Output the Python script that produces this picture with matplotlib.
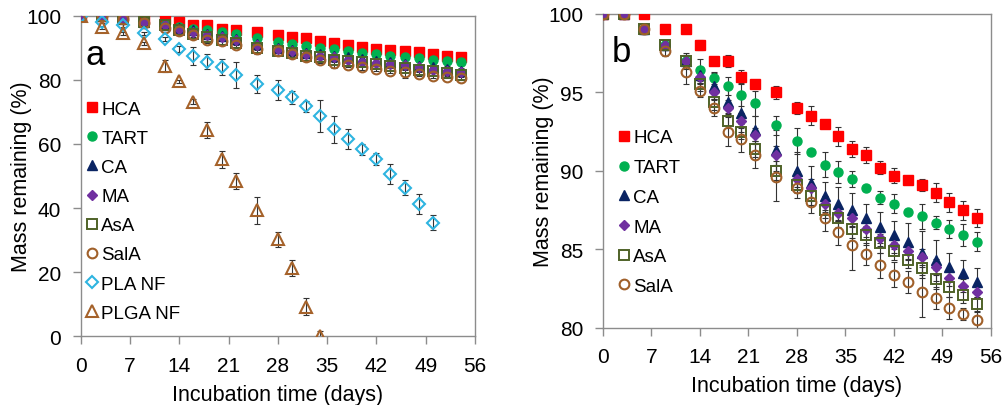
import numpy as np
import matplotlib
matplotlib.use("Agg")
import matplotlib.pyplot as plt

plt.rcParams['font.family'] = ['Liberation Sans', 'DejaVu Sans']

# sampling days (both panels)
days = [0, 3, 6, 9, 12, 14, 16, 18, 20, 22, 25, 28, 30, 32, 34, 36, 38, 40, 42, 44, 46, 48, 50, 52, 54]

# mass remaining (%) for the acid-loaded fibres
hca = [100, 100, 100, 99.0, 99.0, 98.0, 97.0, 97.0, 96.0, 95.5, 95.0, 94.0, 93.5, 93.0, 92.2, 91.4, 91.0, 90.2, 89.7, 89.4, 89.1, 88.6, 88.0, 87.5, 87.0]
tart = [100, 100, 99.0, 98.0, 97.0, 96.4, 95.9, 95.4, 94.8, 94.3, 92.9, 91.9, 91.2, 90.4, 89.9, 89.5, 88.9, 88.3, 87.9, 87.4, 87.1, 86.7, 86.3, 85.9, 85.5]
ca = [100, 100, 99.0, 98.0, 97.0, 96.1, 95.4, 94.4, 93.7, 92.6, 91.3, 90.0, 89.2, 88.4, 87.9, 87.5, 87.0, 86.4, 85.9, 85.5, 84.8, 84.3, 83.9, 83.5, 82.9]
ma = [100, 100, 99.0, 98.0, 97.0, 96.0, 95.0, 94.0, 93.2, 92.3, 91.0, 89.5, 88.9, 87.9, 87.3, 87.0, 86.3, 85.7, 85.3, 84.9, 84.5, 83.9, 83.2, 82.7, 82.3]
asa = [100, 100, 99.0, 98.0, 97.0, 95.5, 94.4, 93.2, 92.5, 91.4, 90.0, 89.1, 88.4, 87.5, 87.0, 86.3, 85.9, 85.4, 84.9, 84.3, 83.8, 83.1, 82.6, 82.1, 81.5]
sala = [100, 100, 99.0, 97.6, 96.3, 95.1, 94.0, 92.5, 92.0, 91.0, 89.6, 88.9, 88.0, 87.0, 86.1, 85.3, 84.7, 84.0, 83.4, 82.9, 82.3, 81.9, 81.3, 80.9, 80.5]

# error bars (+/-)
hca_err = [0, 0, 0, 0.1, 0.2, 0.3, 0.1, 0.4, 0.4, 0.1, 0.4, 0.4, 0.6, 0.1, 0.6, 0.5, 0.5, 0.4, 0.5, 0.1, 0.4, 0.6, 0.6, 0.6, 0.6]
tart_err = [0, 0.3, 0.3, 0.3, 0.5, 0.7, 0.4, 0.6, 0.7, 0.8, 0.6, 0.8, 0.1, 0.8, 0.7, 0.5, 0.2, 0.4, 0.6, 0.2, 0.8, 0.4, 0.6, 0.7, 0.6]
ca_err = [0, 0.3, 0.3, 0.3, 0.4, 0.5, 0.8, 0.8, 1.2, 0.9, 1.3, 1.2, 1.1, 0.9, 1.1, 1.1, 0.9, 1.0, 0.9, 1.2, 1.4, 1.3, 0.9, 0.8, 0.9]
ma_err = [0, 0.2, 0.2, 0.3, 0.3, 0.4, 0.4, 0.5, 0.5, 0.4, 0.6, 0.5, 0.6, 0.5, 0.5, 0.5, 0.5, 0.5, 0.5, 0.5, 0.5, 0.5, 0.5, 0.4, 0.4]
asa_err = [0, 0.3, 0.3, 0.3, 0.4, 0.4, 0.5, 0.5, 0.5, 0.5, 0.6, 0.5, 0.6, 0.5, 0.6, 0.6, 0.6, 0.6, 0.6, 0.5, 0.6, 0.6, 0.6, 0.5, 0.5]
sala_err = [0, 0.3, 0.3, 0.3, 0.8, 0.4, 0.5, 0.9, 0.8, 0.8, 1.5, 0.6, 0.7, 0.8, 0.8, 1.6, 0.7, 0.8, 0.8, 0.7, 1.6, 0.7, 0.7, 0.4, 0.6]

# neat polymer nanofibres (panel a only)
pla_days = days[:23]
pla = [100, 98.1, 97.1, 94.5, 92.7, 89.6, 87.4, 85.7, 83.9, 81.5, 78.7, 76.8, 74.5, 71.7, 68.6, 64.6, 61.5, 58.3, 55.4, 50.5, 46.4, 41.4, 35.4]
pla_err = [0, 0.5, 0.5, 0.5, 0.6, 1.0, 2.8, 2.3, 2.5, 4.0, 2.9, 3.1, 2.0, 1.8, 5.0, 4.2, 3.1, 1.8, 1.9, 3.1, 2.4, 3.1, 2.3]
plga_days = days[:15]
plga = [100, 96.4, 94.5, 91.4, 84.4, 79.5, 73.2, 64.3, 55.2, 48.4, 39.3, 30.2, 21.2, 9.2, 0]
plga_err = [0, 0.5, 0.5, 0.5, 1.9, 0.5, 0.8, 2.6, 2.6, 2.6, 4.3, 2.3, 2.5, 2.6, 1.5]

acid_names = ['HCA', 'TART', 'CA', 'MA', 'AsA', 'SalA']
acid_vals = [hca, tart, ca, ma, asa, sala]
acid_errs = [hca_err, tart_err, ca_err, ma_err, asa_err, sala_err]

styles = {
    'HCA': dict(marker='s', color='#FF0000', mfc='#FF0000', ms=6.5),
    'TART': dict(marker='o', color='#00B050', mfc='#00B050', ms=6.5),
    'CA': dict(marker='^', color='#0A2463', mfc='#0A2463', ms=7.5),
    'MA': dict(marker='D', color='#7030A0', mfc='#7030A0', ms=5.5),
    'AsA': dict(marker='s', color='#4F6228', mfc='none', ms=6.5, mew=1.4),
    'SalA': dict(marker='o', color='#A0602A', mfc='none', ms=7, mew=1.5),
    'PLA NF': dict(marker='D', color='#2EB4E0', mfc='none', ms=6, mew=1.5),
    'PLGA NF': dict(marker='^', color='#A5622A', mfc='none', ms=8, mew=1.5),
}

fig = plt.figure(figsize=(10.05, 4.06), dpi=100)
ax_a = fig.add_axes([0.0803, 0.1692, 0.3923, 0.7897])
ax_b = fig.add_axes([0.5997, 0.1897, 0.3864, 0.7741])


def draw(ax, name, x, y, err):
    st = styles[name]
    ax.errorbar(x, y, yerr=err, fmt='none', ecolor='#333333', elinewidth=0.8,
                capsize=2.2, capthick=0.8, zorder=2)
    ax.plot(x, y, linestyle='none', marker=st['marker'], color=st['color'],
            mfc=st['mfc'], mec=st['color'], ms=st['ms'], mew=st.get('mew', 1.0),
            label=name, zorder=3)


for name, v, e in zip(acid_names, acid_vals, acid_errs):
    draw(ax_a, name, days, v, e)
draw(ax_a, 'PLA NF', pla_days, pla, pla_err)
draw(ax_a, 'PLGA NF', plga_days, plga, plga_err)

for name, v, e in zip(acid_names, acid_vals, acid_errs):
    draw(ax_b, name, days, v, e)

ax_a.set_ylim(0, 100)
ax_a.set_yticks(np.arange(0, 101, 20))
ax_b.set_ylim(80, 100)
ax_b.set_yticks(np.arange(80, 101, 5))

for ax in (ax_a, ax_b):
    ax.set_xlim(0, 56)
    ax.set_xticks(np.arange(0, 57, 7))
    for sp in ax.spines.values():
        sp.set_color('#8C8C8C')
        sp.set_linewidth(1.0)
    ax.tick_params(direction='out', length=5.5, width=1.0, color='#8C8C8C',
                   labelsize=15, labelcolor='black', pad=8.5)
    ax.set_xlabel('Incubation time (days)', fontsize=15.5, labelpad=6.5)
    ax.set_ylabel('Mass remaining (%)', fontsize=15.5, labelpad=-4.5)

ax_a.legend(loc='upper left', bbox_to_anchor=(0.0145, 0.735), frameon=False,
            fontsize=13.5, handlelength=0.6, handletextpad=0.2, borderpad=0,
            borderaxespad=0, labelspacing=0.64)
ax_b.legend(loc='upper left', bbox_to_anchor=(0.040, 0.632), frameon=False,
            fontsize=13.5, handlelength=0.6, handletextpad=0.2, borderpad=0,
            borderaxespad=0, labelspacing=0.67)

ax_a.text(0.011, 0.849, 'a', transform=ax_a.transAxes, fontsize=25, va='baseline')
ax_b.text(0.023, 0.850, 'b', transform=ax_b.transAxes, fontsize=25, va='baseline')

fig.savefig('out.png', dpi=100)
